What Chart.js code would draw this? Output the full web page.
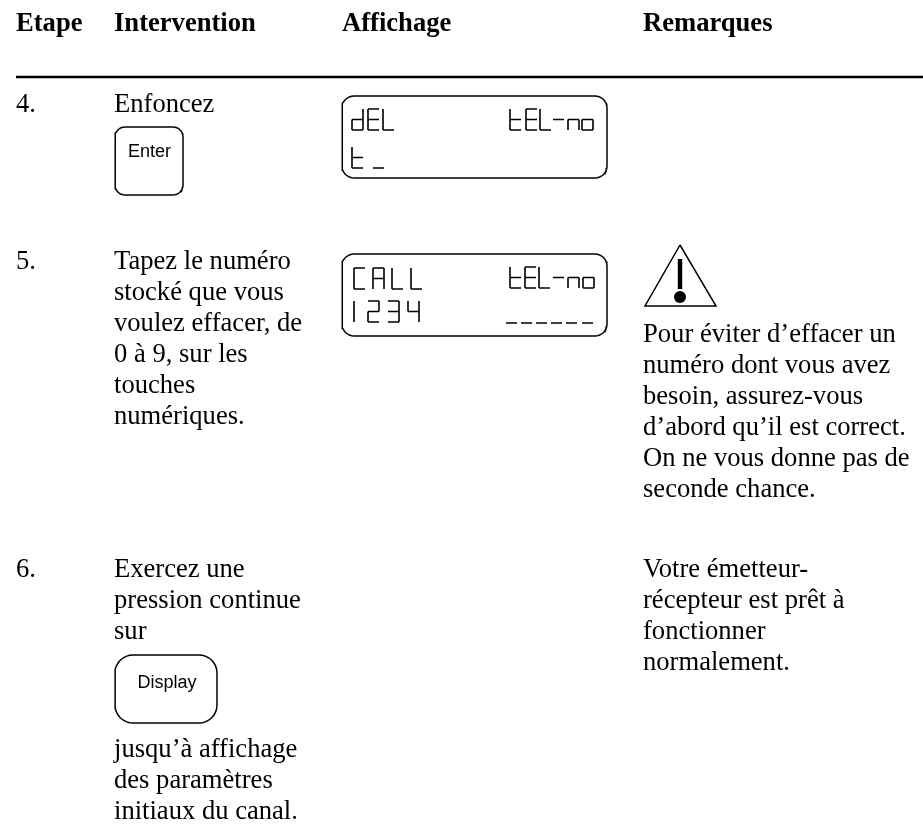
<!DOCTYPE html>
<html lang="fr">
<head>
<meta charset="utf-8">
<title>Etape Intervention Affichage Remarques</title>
<script src="https://cdn.jsdelivr.net/npm/chart.js@4/dist/chart.umd.min.js"></script>
<style>
  html, body { margin: 0; padding: 0; background: #fff; }
  #wrap { width: 923px; height: 824px; overflow: hidden; }
  canvas { display: block; }
</style>
</head>
<body>
<div id="wrap"><canvas id="chart" width="923" height="824"></canvas></div>
<script>
// the page is a table, so rows and columns live on two hidden linear axes
const headers = ['Etape', 'Intervention', 'Affichage', 'Remarques'];
const columnX = [16, 114, 342, 643];
const headerY = 31;

const steps = ['4.', '5.', '6.'];
const stepY = [112, 269, 577];

const row4Lines = ['Enfoncez'];
const row5Lines = ['Tapez le numéro', 'stocké que vous', 'voulez effacer, de', '0 à 9, sur les', 'touches', 'numériques.'];
const row6Lines = ['Exercez une', 'pression continue', 'sur'];
const row6After = ['jusqu’à affichage', 'des paramètres', 'initiaux du canal.'];
const remark5 = ['Pour éviter d’effacer un', 'numéro dont vous avez', 'besoin, assurez-vous', 'd’abord qu’il est correct.', 'On ne vous donne pas de', 'seconde chance.'];
const remark6 = ['Votre émetteur-', 'récepteur est prêt à', 'fonctionner', 'normalement.'];
const row6AfterY = 757;
const remark5Y = 342;
const lineStep = 31;

const keys = ['Enter', 'Display'];
const keyTextX = [149.5, 167];
const keyTextY = [157, 688];

// display readouts and where each character starts
const lcdStrings = ['dEL', 'tEL-no', 't_', 'CALL', 'tEL-no', '1234', '______'];
const lcdCharX = [
  [352, 368, 383],
  [510, 526, 540, 553, 568, 582],
  [352, 373],
  [354, 373, 392, 411],
  [510, 525, 539, 553, 568, 583],
  [354, 368, 388, 408],
  [506, 521, 536, 551, 566, 582]
];
const lcdCharTop = [109, 109, 147, 268, 267, 301, 302];

// which segments (a-g) each display character lights
const segments = {
  d: 'bcdeg', E: 'adefg', L: 'def', t: 'defg', '-': 'g', n: 'ceg', o: 'cdeg',
  C: 'adef', A: 'abcefg', 1: 'ef', 2: 'abdeg', 3: 'abcdg', 4: 'bcfg', _: 'd'
};

function roundRect(x0, x1, y0, y1, r) {
  const pts = [];
  const corner = (cx, cy, from) => {
    for (let i = 0; i <= 8; i++) {
      const a = from + i * Math.PI / 16;
      pts.push({ x: cx + r * Math.cos(a), y: cy + r * Math.sin(a) });
    }
  };
  corner(x1 - r, y0 + r, -Math.PI / 2);
  corner(x1 - r, y1 - r, 0);
  corner(x0 + r, y1 - r, Math.PI / 2);
  corner(x0 + r, y0 + r, Math.PI);
  pts.push(pts[0]);
  return pts;
}

function lcdText(str, xs, top) {
  const h = 21, w = 11;
  const pts = [];
  [...str].forEach((ch, i) => {
    const l = xs[i], r = l + w;
    const m = top + h / 2, b = top + h;
    const seg = {
      a: [l, top, r, top], b: [r, top, r, m], c: [r, m, r, b],
      d: [l, b, r, b], e: [l, m, l, b], f: [l, top, l, m], g: [l, m, r, m]
    };
    for (const s of segments[ch]) {
      const [x1, y1, x2, y2] = seg[s];
      pts.push({ x: x1, y: y1 }, { x: x2, y: y2 }, { x: NaN, y: NaN });
    }
  });
  return pts;
}

const outline = (data, width) => ({
  data, showLine: true, pointRadius: 0, borderColor: '#000', borderWidth: width, spanGaps: false, tension: 0
});

const datasets = [
  outline([{ x: 16, y: 77 }, { x: 923, y: 77 }], 2.4),
  outline(roundRect(115, 183, 127, 195, 10), 1.5),
  outline(roundRect(115, 217, 655, 723, 18), 1.5),
  outline(roundRect(342, 607, 96, 178, 12), 1.5),
  outline(roundRect(342, 607, 254, 336, 12), 1.5),
  outline([{ x: 680, y: 245 }, { x: 645, y: 306 }, { x: 716, y: 306 }, { x: 680, y: 245 }], 1.5),
  outline([{ x: 680, y: 259 }, { x: 680, y: 289 }], 4.4),
  { data: [{ x: 680, y: 297 }], pointRadius: 6, pointBackgroundColor: '#000', pointBorderWidth: 0 }
];
lcdStrings.forEach((s, i) => datasets.push(outline(lcdText(s, lcdCharX[i], lcdCharTop[i]), 1.6)));

const textPlugin = {
  id: 'pageText',
  afterDatasetsDraw(chart) {
    const { ctx, scales: { x, y } } = chart;
    const put = (s, px, py, font, align) => {
      ctx.font = font;
      ctx.textAlign = align || 'left';
      ctx.textBaseline = 'alphabetic';
      ctx.fillStyle = '#000';
      ctx.fillText(s, x.getPixelForValue(px), y.getPixelForValue(py));
    };
    const body = '26.6px "Liberation Serif"';
    const block = (lines, px, py) => lines.forEach((s, i) => put(s, px, py + i * lineStep, body));
    headers.forEach((s, i) => put(s, columnX[i], headerY, 'bold 26.6px "Liberation Serif"'));
    steps.forEach((s, i) => put(s, columnX[0], stepY[i], body));
    block(row4Lines, columnX[1], stepY[0]);
    block(row5Lines, columnX[1], stepY[1]);
    block(row6Lines, columnX[1], stepY[2]);
    block(row6After, columnX[1], row6AfterY);
    block(remark5, columnX[3], remark5Y);
    block(remark6, columnX[3], stepY[2]);
    keys.forEach((s, i) => put(s, keyTextX[i], keyTextY[i], '18px "Liberation Sans"', 'center'));
  }
};

new Chart(document.getElementById('chart'), {
  type: 'scatter',
  data: { datasets },
  plugins: [textPlugin],
  options: {
    responsive: false,
    animation: false,
    layout: { padding: 0, autoPadding: false },
    plugins: { legend: { display: false }, tooltip: { enabled: false } },
    scales: {
      x: { type: 'linear', display: false, min: 0, max: 923 },
      y: { type: 'linear', display: false, min: 0, max: 824, reverse: true }
    }
  }
});
</script>
</body>
</html>
